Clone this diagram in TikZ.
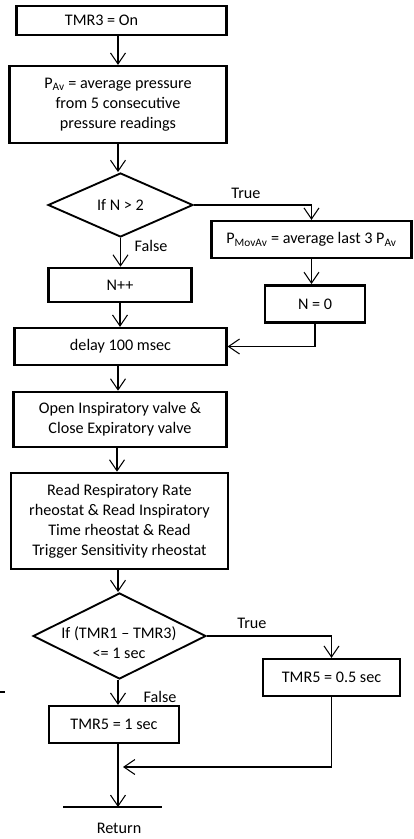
\documentclass[tikz,border=0pt]{standalone}
\usepackage{fontspec}
\setmainfont{Carlito}
\usetikzlibrary{arrows.meta, shapes.geometric, positioning}

\begin{document}
\begin{tikzpicture}[x=0.03cm, y=-0.03cm,
        every node/.style={font=\fontsize{13.8pt}{17pt}\selectfont},
        box/.style={draw, line width=2.2pt, inner sep=2pt, align=center},
        decision/.style={draw, diamond, line width=1.6pt, inner sep=0pt},
        txt/.style={align=center, inner sep=0pt},
        arr/.style={-{Straight Barb[length=0.33cm, width=0.45cm]}, line width=0.9pt}
      ]
        \useasboundingbox (0,0) rectangle (413,839);

        % main column
        \node[box, minimum width=6.3cm, minimum height=0.88cm] (on) at (121.5,20.5)
          {\hspace*{-1.2cm}TMR3 = On};
        \node[box, minimum width=6.5cm, minimum height=2.3cm] (pav) at (118,104.5)
          {P\textsubscript{Av} = average pressure\\from 5 consecutive\\pressure readings};
        \node[decision, minimum width=4.35cm, minimum height=1.92cm] (ifn) at (120.5,205) {};
        \node[txt] (ifnt) at (ifn) {If N > 2};
        \node[box, minimum width=4.3cm, minimum height=1.02cm] (inc) at (120,285) {N++};
        \node[box, minimum width=6.35cm, minimum height=1.1cm] (dly) at (120.5,346.5) {delay 100 msec};
        \node[box, minimum width=6.4cm, minimum height=1.65cm] (opn) at (120,419.5)
          {Open Inspiratory valve \&\\Close Expiratory valve};
        \node[box, minimum width=6.5cm, minimum height=2.88cm] (rd) at (119.5,521)
          {Read Respiratory Rate\\rheostat \& Read Inspiratory\\Time rheostat \& Read\\Trigger Sensitivity rheostat};
        \node[decision, minimum width=5.19cm, minimum height=2.58cm] (ifr) at (119.5,636) {};
        \node[txt] (ifrt) at (119,643) {If (TMR1 -- TMR3)\\<= 1 sec};
        \node[box, minimum width=3.9cm, minimum height=1.1cm] (tone) at (114,724.5) {TMR5 = 1 sec};

        % right branch
        \node[box, minimum width=6cm, minimum height=1.1cm] (pmov) at (311.5,239.5)
          {P\textsubscript{MovAv} = average last 3 P\textsubscript{Av}};
        \node[box, minimum width=3cm, minimum height=1.12cm] (nz) at (315,304) {N = 0};
        \node[box, minimum width=4.1cm, minimum height=1.1cm] (thalf) at (331.5,677.5) {TMR5 = 0.5 sec};

        % labels
        \node (tru1) at (246,193) {True};
        \node (fls1) at (151,246) {False};
        \node (tru2) at (252,623) {True};
        \node (fls2) at (160,697) {False};

        % return
        \coordinate (retl) at (63,807);
        \coordinate (retr) at (162,807);
        \coordinate (ret) at (118,807);
        \coordinate (merge) at (123,767);
        \node (rettxt) at (119,828) {Return};

        \draw[arr] (on.south -| 118,0) -- (118,0 |- pav.north);
        \draw[arr] (pav.south -| 118,0) -- (118,0 |- ifn.north);
        \draw[arr] (ifn.east) -| (pmov.north);
        \draw[arr] (ifn.south) -- (ifn.south |- inc.north);
        \draw[arr] (pmov.south) -- (pmov.south |- nz.north);
        \draw[arr] (inc.south) -- (inc.south |- dly.north);
        \draw[arr] (nz.south) |- (dly.east);
        \draw[arr] (dly.south -| 118,0) -- (118,0 |- opn.north);
        \draw[arr] (opn.south -| 117,0) -- (117,0 |- rd.north);
        \draw[arr] (rd.south -| 118,0) -- (118,0 |- ifr.north);
        \draw[arr] (ifr.east) -| (thalf.north);
        \draw[arr] (ifr.south -| 118,0) -- (118,0 |- tone.north);
        \draw[arr] (tone.south -| 118,0) -- (ret);
        \draw[arr] (thalf.south) |- (merge);
        \draw[line width=0.9pt] (retl) -- (retr);

        % stray mark at left edge
        \draw[line width=0.9pt] (0,692) -- (5,692);
      \end{tikzpicture}
\end{document}
